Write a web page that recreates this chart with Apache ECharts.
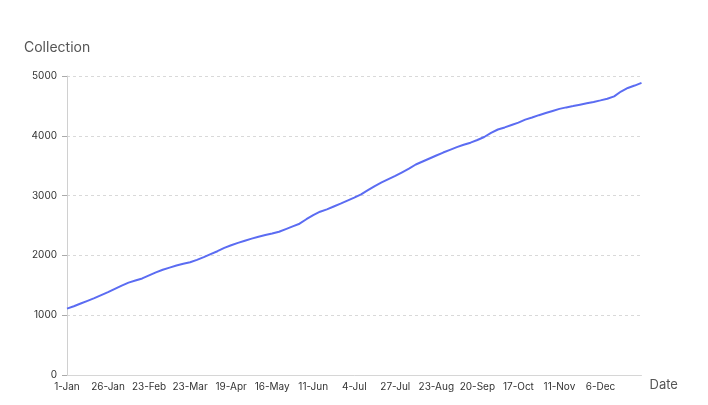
<!DOCTYPE html>
<html>
<head>
<meta charset="utf-8">
<script src="https://cdn.jsdelivr.net/npm/echarts@6/dist/echarts.min.js"></script>
<style>
  html, body { margin: 0; padding: 0; background: #fff; }
  #chart { width: 708px; height: 405px; }
</style>
</head>
<body>
<div id="chart"></div>
<script>
// Tick labels shown on the date axis (one every 6 categories)
const tickLabels = ['1-Jan','26-Jan','23-Feb','23-Mar','19-Apr','16-May','11-Jun','4-Jul','27-Jul','23-Aug','20-Sep','17-Oct','11-Nov','6-Dec'];
// Day-of-year of each tick label, plus the final date (31-Dec)
const anchorDays = [1, 26, 54, 82, 109, 136, 162, 185, 208, 235, 263, 290, 315, 340, 365];
const stepsPerLabel = 6;

// Cumulative collection values
const collection = [
  1110, 1150, 1195, 1240, 1285, 1335, 1385, 1440, 1495, 1545,
  1580, 1615, 1665, 1715, 1760, 1795, 1830, 1860, 1885, 1925,
  1970, 2020, 2070, 2125, 2170, 2210, 2245, 2280, 2313, 2340,
  2365, 2395, 2440, 2485, 2530, 2605, 2675, 2731, 2770, 2818,
  2865, 2915, 2965, 3020, 3090, 3160, 3220, 3275, 3330, 3390,
  3450, 3520, 3570, 3620, 3670, 3720, 3765, 3810, 3850, 3885,
  3930, 3980, 4050, 4105, 4140, 4180, 4220, 4270, 4305, 4345,
  4380, 4415, 4450, 4475, 4497, 4520, 4543, 4565, 4592, 4620,
  4660, 4740, 4800, 4840, 4885
];

const monthNames = ['Jan','Feb','Mar','Apr','May','Jun','Jul','Aug','Sep','Oct','Nov','Dec'];
function dayLabel(doy) {
  const d = new Date(Date.UTC(2023, 0, doy));
  return d.getUTCDate() + '-' + monthNames[d.getUTCMonth()];
}
// Category dates: anchors at every 6th position, intermediate dates between them
const categories = [];
for (let a = 0; a < anchorDays.length - 1; a++) {
  for (let s = 0; s < stepsPerLabel; s++) {
    const doy = Math.round(anchorDays[a] + (anchorDays[a + 1] - anchorDays[a]) * s / stepsPerLabel);
    categories.push(s === 0 && a < tickLabels.length ? tickLabels[a] : dayLabel(doy));
  }
}
categories.push(dayLabel(anchorDays[anchorDays.length - 1]));

const chart = echarts.init(document.getElementById('chart'), null, { renderer: 'canvas' });
const font = 'Inter, "Open Sans", sans-serif';
chart.setOption({
  animation: false,
  textStyle: { fontFamily: font },
  title: {
    text: 'Collection',
    left: 19,
    top: 36,
    textStyle: { fontSize: 14, fontWeight: 'normal', color: '#555', fontFamily: font }
  },
  grid: { left: 67, right: 66.5, top: 76, bottom: 30, containLabel: false },
  xAxis: {
    type: 'category',
    data: categories,
    boundaryGap: false,
    name: 'Date',
    nameLocation: 'end',
    nameGap: 8,
    nameTextStyle: { fontSize: 13, color: '#555', verticalAlign: 'top', padding: [4, 0, 0, 0] },
    axisLine: { show: true, lineStyle: { color: '#d6d6d6', width: 1 } },
    axisTick: { show: false },
    axisLabel: {
      color: '#333',
      fontSize: 10,
      margin: 7,
      interval: function (i) { return i % stepsPerLabel === 0 && i < categories.length - 1; }
    },
    splitLine: { show: false }
  },
  yAxis: {
    type: 'value',
    min: 0,
    max: 5000,
    interval: 1000,
    axisLine: { show: true, lineStyle: { color: '#d0d0d0', width: 1 } },
    axisTick: { show: true, inside: false, length: 5, lineStyle: { color: '#aaaaaa', width: 1 } },
    axisLabel: { color: '#333', fontSize: 10, margin: 10, formatter: function (v) { return String(v); } },
    splitLine: { show: true, lineStyle: { color: '#d9d9d9', type: [3, 3], width: 1 } }
  },
  series: [{
    type: 'line',
    data: collection,
    showSymbol: false,
    symbol: 'none',
    lineStyle: { color: '#5b6cf2', width: 2 },
    itemStyle: { color: '#5b6cf2' }
  }]
});
</script>
</body>
</html>
